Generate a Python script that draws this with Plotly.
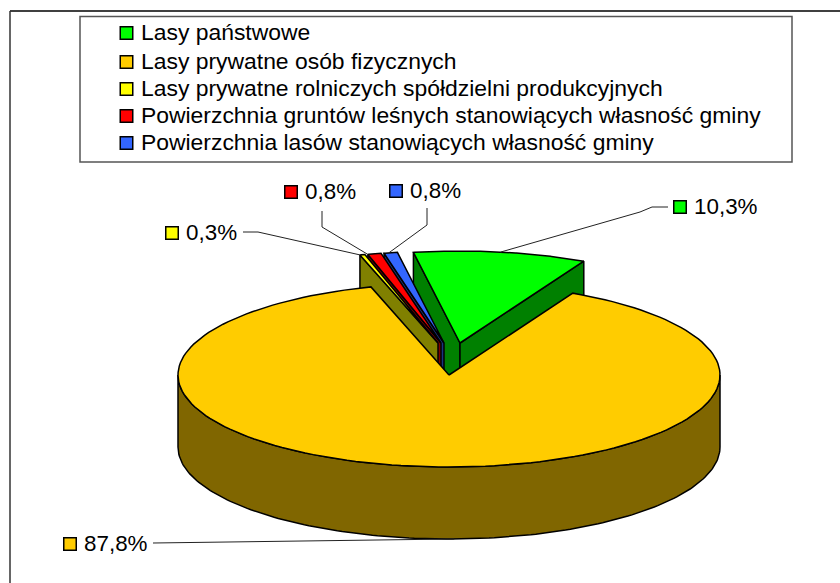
import numpy as np
import plotly.graph_objects as go

categories = ["Lasy państwowe", "Lasy prywatne osób fizycznych",
              "Lasy prywatne rolniczych spółdzielni produkcyjnych",
              "Powierzchnia gruntów leśnych stanowiących własność gminy",
              "Powierzchnia lasów stanowiących własność gminy"]
values = [10.3, 87.8, 0.3, 0.8, 0.8]
colors = ["#00FF00", "#FFCC00", "#FFFF00", "#FF0000", "#3366FF"]
dark_colors = ["#008000", "#806600", "#808000", "#800000", "#1A3380"]

# geometry of the tilted pie, in page pixels
CX, CY, A, B, DEPTH = 449, 375, 271, 92, 72
START = -9.9
EXPLODE = [(11, -32), (0, 0), (-11, -32), (-8, -32), (-5, -32)]
LABEL_POS = [(680, 207), (70, 544), (172, 233), (291, 192), (396, 191)]
LEADER_KNEES = [[(668, 207), (652, 207), (640, 212)],
                [(153, 543)],
                [(243, 232), (258, 232)],
                [(322, 211), (322, 227)],
                [(427, 208), (427, 225)]]
LEADER_FRAC = [0.5, 0.48, 0.0, 0.0, 0.35]
LEGEND_Y = [33, 62, 89, 116, 143]

fig = go.Figure()
edges = np.cumsum([0] + [v * 3.6 for v in values]) + START


def arc(i, t0, t1, dy=0, n=160):
    t = np.radians(np.linspace(t0, t1, n))
    ox, oy = EXPLODE[i]
    return CX + ox + A * np.sin(t), CY + oy + dy - B * np.cos(t)


def poly(xs, ys, fill):
    fig.add_trace(go.Scatter(x=list(xs), y=list(ys), mode="lines", fill="toself", fillcolor=fill,
                             line=dict(color="black", width=1.5), hoverinfo="skip", showlegend=False))


def cut_wall(i, t):
    ox, oy = EXPLODE[i]
    x, y = arc(i, t, t, n=1)
    ax, ay = CX + ox, CY + oy
    poly([ax, x[0], x[0], ax, ax], [ay, y[0], y[0] + DEPTH, ay + DEPTH, ay], dark_colors[i])


def top(i):
    x, y = arc(i, edges[i], edges[i + 1])
    ox, oy = EXPLODE[i]
    poly(np.r_[CX + ox, x, CX + ox], np.r_[CY + oy, y, CY + oy], colors[i])


# back to front: green, blue, red, yellow, then the big slice
cut_wall(0, edges[0])
cut_wall(0, edges[1])
top(0)
for i in (4, 3, 2):
    cut_wall(i, edges[i])
    top(i)

x1, y1 = arc(1, 90, 270)
x2, y2 = arc(1, 270, 90, dy=DEPTH)
poly(np.r_[x1, x2, x1[0]], np.r_[y1, y2, y1[0]], dark_colors[1])
top(1)

# leader lines and data labels
annotations = []
for i, v in enumerate(values):
    t_end = edges[i] + LEADER_FRAC[i] * (edges[i + 1] - edges[i])
    ex, ey = arc(i, t_end, t_end, dy=DEPTH if i == 1 else 0, n=1)
    knees = LEADER_KNEES[i]
    fig.add_trace(go.Scatter(x=[p[0] for p in knees] + [ex[0]], y=[p[1] for p in knees] + [ey[0]],
                             mode="lines", line=dict(color="#222222", width=1),
                             hoverinfo="skip", showlegend=False))
    lx, ly = LABEL_POS[i]
    fig.add_trace(go.Scatter(x=[lx], y=[ly], mode="markers", hoverinfo="skip", showlegend=False,
                             marker=dict(symbol="square", size=12.5, color=colors[i],
                                         line=dict(color="black", width=1.5))))
    annotations.append(dict(x=lx + 12, y=ly - 1, text=f"{v:.1f}%".replace(".", ","), showarrow=False,
                            xanchor="left", yanchor="middle", font=dict(size=22.4)))

# legend rows
for i, name in enumerate(categories):
    fig.add_trace(go.Scatter(x=[126.5], y=[LEGEND_Y[i]], mode="markers", hoverinfo="skip", showlegend=False,
                             marker=dict(symbol="square", size=12.5, color=colors[i],
                                         line=dict(color="black", width=1.5))))
    annotations.append(dict(x=139, y=LEGEND_Y[i] - 1, text=name, showarrow=False,
                            xanchor="left", yanchor="middle", font=dict(size=22.9)))

axis = dict(visible=False, showgrid=False, zeroline=False, fixedrange=True)
fig.update_layout(
    width=840, height=583, autosize=False,
    margin=dict(l=0, r=0, t=0, b=0),
    paper_bgcolor="white", plot_bgcolor="white",
    font=dict(family="Liberation Sans, Arial, sans-serif", color="black"),
    xaxis=dict(range=[0, 840], **axis),
    yaxis=dict(range=[583, 0], **axis),
    annotations=annotations,
    shapes=[
        dict(type="line", x0=10, x1=840, y0=11, y1=11, line=dict(color="black", width=1.5)),
        dict(type="line", x0=10, x1=10, y0=11, y1=583, line=dict(color="#333333", width=1.5)),
        dict(type="rect", x0=80, x1=792, y0=16.5, y1=162, line=dict(color="#555555", width=1.5)),
    ],
)
fig.write_html("out.html", config=dict(displayModeBar=False),
               post_script="document.body.style.margin='0';document.body.style.overflow='hidden';")
